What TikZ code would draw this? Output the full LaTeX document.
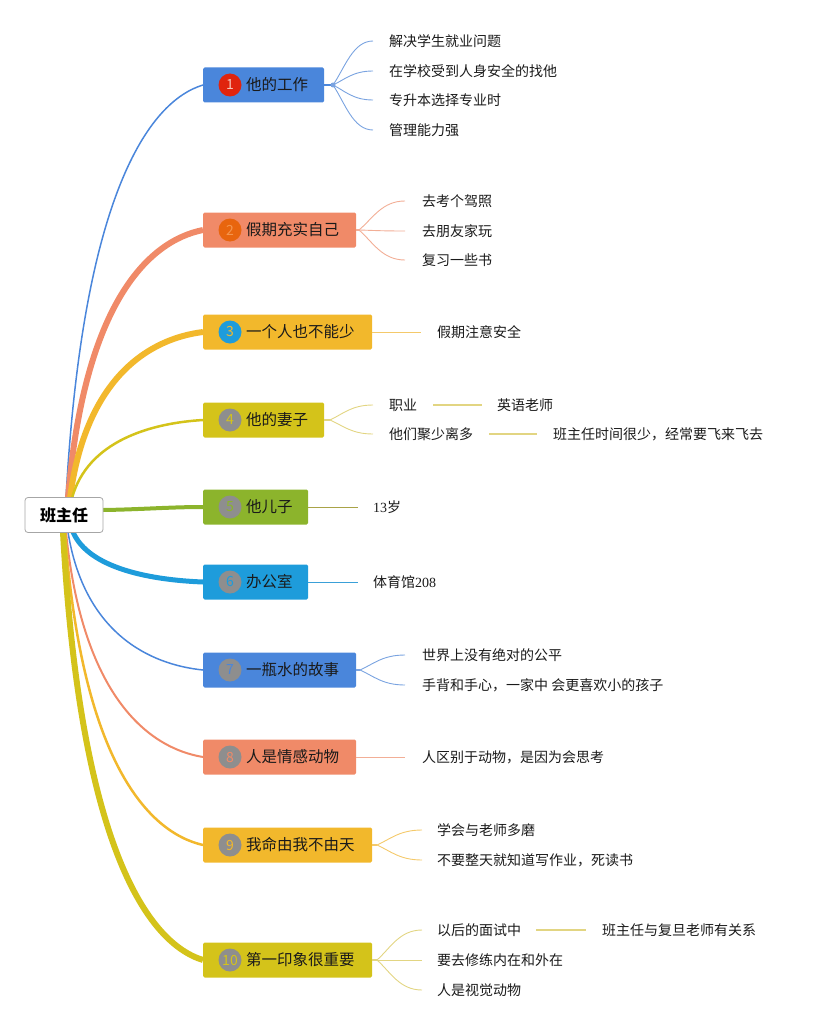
\documentclass[tikz,border=0pt]{standalone}
\usepackage{fontspec}
\setmainfont{Noto Sans CJK SC}
\newfontfamily\digitfont{Liberation Serif}
\usetikzlibrary{calc,backgrounds}
\definecolor{cblue}{HTML}{4A86DB}
\definecolor{lblue}{HTML}{7AA3E0}
\definecolor{csalmon}{HTML}{F08A68}
\definecolor{lsalmon}{HTML}{F2AE96}
\definecolor{cyell}{HTML}{F2B82C}
\definecolor{lyell}{HTML}{F4C96A}
\definecolor{colive}{HTML}{D4C31A}
\definecolor{lolive}{HTML}{E2D582}
\definecolor{cgreen}{HTML}{8CB42C}
\definecolor{lgreen}{HTML}{A9A347}
\definecolor{csky}{HTML}{1E9CDB}
\definecolor{lsky}{HTML}{3AA0D8}
\definecolor{cred}{HTML}{E0240E}
\definecolor{corange}{HTML}{E8650E}
\definecolor{cgray}{HTML}{8E8E8E}
\definecolor{nred}{HTML}{F6C6B8}
\definecolor{norange}{HTML}{F4954E}
\definecolor{ntext}{HTML}{1A1A1A}
\newcommand\mmbranch[3][]{\draw[#1] let \p1=(#2), \p2=(#3) in (\p1) .. controls ({\x1+0.12*(\x2-\x1)},{\y1+0.73*(\y2-\y1)}) and ({\x1+0.6*(\x2-\x1)},{\y1+0.96*(\y2-\y1)}) .. (\p2);}
\newcommand\mmleaf[3][]{\draw[#1] let \p1=(#2), \p2=(#3) in (\p1) .. controls ({\x1+0.3*(\x2-\x1)},{\y1+0.4*(\y2-\y1)}) and ({\x1+0.5*(\x2-\x1)},\y2) .. (\p2);}
\tikzset{
  rootbox/.style={draw=black!35, line width=0.8pt, fill=white, rounded corners=3pt, minimum width=78pt, minimum height=35pt, inner sep=0pt, font=\fontsize{16}{18}\selectfont\bfseries},
  bbox/.style={anchor=west, minimum height=35pt, inner sep=0pt, rounded corners=1.5pt},
  numc/.style={circle, minimum size=23pt, inner sep=0pt, font=\fontsize{14}{14}\selectfont},
  blabel/.style={anchor=west, inner sep=0pt, text=ntext, font=\fontsize{15.5}{18}\selectfont},
  leaf/.style={anchor=west, inner xsep=16pt, inner ysep=0pt, text=ntext, font=\fontsize{14}{16}\selectfont},
  thinl/.style={line width=0.9pt},
  hubdot/.style={circle, inner sep=0pt, minimum size=5pt}
}
\begin{document}
\begin{tikzpicture}[x=1pt,y=-1pt]
\useasboundingbox (0,0) rectangle (823,1030);
% root
\node[rootbox] (r) at (64,515) {班主任};
% start coordinates on root
\coordinate (s1) at (66,498);
\coordinate (s2) at (68,498);
\coordinate (s3) at (70,498);
\coordinate (s4) at (72,498);
\coordinate (s5) at (103,510);
\coordinate (s6) at (73,532);
\coordinate (s7) at (68,532);
\coordinate (s8) at (66,532);
\coordinate (s9) at (65,532);
\coordinate (s10) at (63,532);
% boxes
\node[bbox, fill=cblue, minimum width=121pt] (b1) at (203,85) {};
\node[bbox, fill=csalmon, minimum width=153pt] (b2) at (203,230) {};
\node[bbox, fill=cyell, minimum width=169pt] (b3) at (203,332) {};
\node[bbox, fill=colive, minimum width=121pt] (b4) at (203,420) {};
\node[bbox, fill=cgreen, minimum width=105pt] (b5) at (203,507) {};
\node[bbox, fill=csky, minimum width=105pt] (b6) at (203,582) {};
\node[bbox, fill=cblue, minimum width=153pt] (b7) at (203,670) {};
\node[bbox, fill=csalmon, minimum width=153pt] (b8) at (203,757) {};
\node[bbox, fill=cyell, minimum width=169pt] (b9) at (203,845) {};
\node[bbox, fill=colive, minimum width=169pt] (b10) at (203,960) {};
% branch connectors (behind nodes)
\begin{scope}[on background layer]
\mmbranch[cblue, line width=1.5pt]{s1}{b1.west}
\mmbranch[csalmon, line width=6pt]{s2}{b2.west}
\mmbranch[cyell, line width=6pt]{s3}{b3.west}
\mmbranch[colive, line width=2.5pt]{s4}{b4.west}
\draw[cgreen, line width=4pt] (s5) .. controls (140,509.5) and (170,507) .. (b5.west);
\mmbranch[csky, line width=5pt]{s6}{b6.west}
\mmbranch[cblue, line width=1.5pt]{s7}{b7.west}
\mmbranch[csalmon, line width=2pt]{s8}{b8.west}
\mmbranch[cyell, line width=2.5pt]{s9}{b9.west}
\mmbranch[colive, line width=6pt]{s10}{b10.west}
\end{scope}
% number circles
\node[numc, fill=cred, text=nred] (c1) at (230,85) {1};
\node[numc, fill=corange, text=norange] (c2) at (230,230) {2};
\node[numc, fill=csky, text=cyell] (c3) at (230,332) {3};
\node[numc, fill=cgray, text=colive] (c4) at (230,420) {4};
\node[numc, fill=cgray, text=cgreen] (c5) at (230,507) {5};
\node[numc, fill=cgray, text=csky] (c6) at (230,582) {6};
\node[numc, fill=cgray, text=cblue] (c7) at (230,670) {7};
\node[numc, fill=cgray, text=csalmon] (c8) at (230,757) {8};
\node[numc, fill=cgray, text=cyell] (c9) at (230,845) {9};
\node[numc, fill=cgray, text=colive] (c10) at (230,960) {10};
% labels
\node[blabel] (t1) at (246,85) {他的工作};
\node[blabel] (t2) at (246,230) {假期充实自己};
\node[blabel] (t3) at (246,332) {一个人也不能少};
\node[blabel] (t4) at (246,420) {他的妻子};
\node[blabel] (t5) at (246,507) {他儿子};
\node[blabel] (t6) at (246,582) {办公室};
\node[blabel] (t7) at (246,670) {一瓶水的故事};
\node[blabel] (t8) at (246,757) {人是情感动物};
\node[blabel] (t9) at (246,845) {我命由我不由天};
\node[blabel] (t10) at (246,960) {第一印象很重要};
% hubs
\coordinate (h1) at (333,85);
\coordinate (h2) at (359,230);
\coordinate (h4) at (330,420);
\coordinate (h7) at (360,670);
\coordinate (h9) at (377,845);
\coordinate (h10) at (377,960);
% leaves branch 1
\node[leaf] (l11) at (373,41) {解决学生就业问题};
\node[leaf] (l12) at (373,71) {在学校受到人身安全的找他};
\node[leaf] (l13) at (373,100) {专升本选择专业时};
\node[leaf] (l14) at (373,130) {管理能力强};
\draw[cblue, line width=1.5pt] (b1.east) -- (h1);
\node[hubdot, fill=lblue] (d1) at (h1) {};
\mmleaf[lblue, thinl]{h1}{l11.west}
\mmleaf[lblue, thinl]{h1}{l12.west}
\mmleaf[lblue, thinl]{h1}{l13.west}
\mmleaf[lblue, thinl]{h1}{l14.west}
% branch 2
\node[leaf, inner xsep=17pt] (l21) at (405,201) {去考个驾照};
\node[leaf, inner xsep=17pt] (l22) at (405,231) {去朋友家玩};
\node[leaf, inner xsep=17pt] (l23) at (405,260) {复习一些书};
\draw[lsalmon, line width=1.2pt] (b2.east) -- (h2);
\mmleaf[lsalmon, thinl]{h2}{l21.west}
\mmleaf[lsalmon, thinl]{h2}{l22.west}
\mmleaf[lsalmon, thinl]{h2}{l23.west}
% branch 3
\node[leaf] (l31) at (421,332) {假期注意安全};
\draw[lyell, thinl] (b3.east) -- (l31.west);
% branch 4
\node[leaf] (l41) at (373,405) {职业};
\node[leaf, inner xsep=15pt] (l41a) at (482,405) {英语老师};
\node[leaf] (l42) at (373,434) {他们聚少离多};
\node[leaf] (l42a) at (537,434) {班主任时间很少，经常要飞来飞去};
\draw[lolive, line width=1.2pt] (b4.east) -- (h4);
\mmleaf[lolive, thinl]{h4}{l41.west}
\mmleaf[lolive, thinl]{h4}{l42.west}
\draw[lolive, line width=1.2pt] (l41.east) -- (l41a.west);
\draw[lolive, line width=1.2pt] (l42.east) -- (l42a.west);
% branch 5
\node[leaf, inner xsep=15pt] (l51) at (358,507) {{\digitfont 13}岁};
\draw[lgreen, thinl] (b5.east) -- (l51.west);
% branch 6
\node[leaf, inner xsep=15pt] (l61) at (358,582) {体育馆{\digitfont 208}};
\draw[lsky, thinl] (b6.east) -- (l61.west);
% branch 7
\node[leaf, inner xsep=17pt] (l71) at (405,655) {世界上没有绝对的公平};
\node[leaf, inner xsep=17pt] (l72) at (405,685) {手背和手心，一家中 会更喜欢小的孩子};
\draw[lblue, line width=1.2pt] (b7.east) -- (h7);
\mmleaf[lblue, thinl]{h7}{l71.west}
\mmleaf[lblue, thinl]{h7}{l72.west}
% branch 8
\node[leaf, inner xsep=17pt] (l81) at (405,757) {人区别于动物，是因为会思考};
\draw[lsalmon, thinl] (b8.east) -- (l81.west);
% branch 9
\node[leaf, inner xsep=15pt] (l91) at (422,830) {学会与老师多磨};
\node[leaf, inner xsep=15pt] (l92) at (422,860) {不要整天就知道写作业，死读书};
\draw[lyell, line width=1.2pt] (b9.east) -- (h9);
\mmleaf[lyell, thinl]{h9}{l91.west}
\mmleaf[lyell, thinl]{h9}{l92.west}
% branch 10
\node[leaf, inner xsep=15pt] (l101) at (422,930) {以后的面试中};
\node[leaf] (l101a) at (586,930) {班主任与复旦老师有关系};
\node[leaf, inner xsep=15pt] (l102) at (422,960) {要去修练内在和外在};
\node[leaf, inner xsep=15pt] (l103) at (422,990) {人是视觉动物};
\draw[lolive, line width=1.2pt] (b10.east) -- (h10);
\mmleaf[lolive, thinl]{h10}{l101.west}
\mmleaf[lolive, thinl]{h10}{l102.west}
\mmleaf[lolive, thinl]{h10}{l103.west}
\draw[lolive, line width=1.2pt] (l101.east) -- (l101a.west);
\end{tikzpicture}
\end{document}
